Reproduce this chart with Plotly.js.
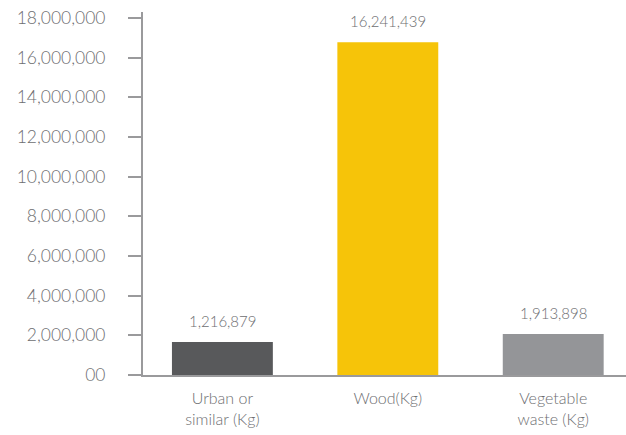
<!DOCTYPE html>
<html><head><meta charset="utf-8">
<script src="https://cdn.plot.ly/plotly-3.0.1.min.js"></script>
<style>html,body{margin:0;padding:0;background:#fff}#chart{width:626px;height:435px}</style>
</head><body><div id="chart"></div>
<script>
const categories = ["Urban or<br>similar (Kg)", "Wood(Kg)", "Vegetable<br>waste (Kg)"];
const barValues = [1660000, 16780000, 2070000];
const barLabels = ["1,216,879", "16,241,439", "1,913,898"];
const barColors = ["#58595b", "#f6c409", "#949598"];
const yTickVals = [0, 2000000, 4000000, 6000000, 8000000, 10000000, 12000000, 14000000, 16000000, 18000000];
const yTickText = ["00", "2,000,000", "4,000,000", "6,000,000", "8,000,000", "10,000,000", "12,000,000", "14,000,000", "16,000,000", "18,000,000"];

const xIdx = categories.map((c, i) => i);
const trace = {
  type: "bar", x: xIdx, y: barValues, width: 0.61,
  marker: {color: barColors}, hoverinfo: "none"
};
const annotations = barValues.map((v, i) => ({
  x: i, y: v, xref: "x", yref: "y", text: barLabels[i], showarrow: false,
  yanchor: "bottom", yshift: 10, font: {family: "Lato", size: 15, weight: 300, color: "#6d6e71"}
}));
const layout = {
  width: 626, height: 435,
  margin: {l: 143, r: 0, t: 12, b: 60},
  paper_bgcolor: "#fff", plot_bgcolor: "#fff",
  showlegend: false, bargap: 0.39,
  font: {family: "Lato", color: "#6d6e71"},
  xaxis: {
    range: [-0.48, 2.44], tickvals: xIdx, ticktext: categories,
    showgrid: false, zeroline: false, showline: true, linecolor: "#9a9a9c", linewidth: 2,
    ticks: "", ticklabelstandoff: 8,
    tickfont: {family: "Lato", size: 16, weight: 300, color: "#6d6e71"}, fixedrange: true
  },
  yaxis: {
    range: [0, 18300000], tickvals: yTickVals, ticktext: yTickText,
    showgrid: false, zeroline: false, showline: true, linecolor: "#9a9a9c", linewidth: 2,
    ticks: "outside", ticklen: 13, tickwidth: 2, tickcolor: "#9a9a9c",
    tickfont: {family: "Lato", size: 17.5, weight: 300, color: "#6d6e71"}, ticklabelstandoff: 19
  },
  annotations: annotations
};
Plotly.newPlot("chart", [trace], layout, {displayModeBar: false, staticPlot: true});
</script></body></html>
